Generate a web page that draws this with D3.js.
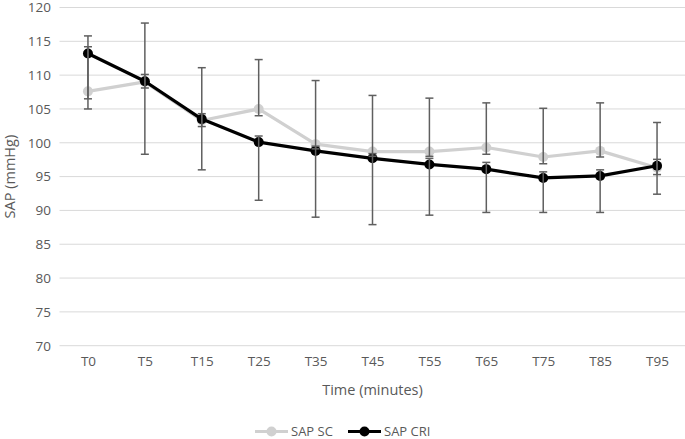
<!DOCTYPE html>
<html>
<head>
<meta charset="utf-8">
<script src="https://cdn.jsdelivr.net/npm/d3@7"></script>
<style>
  html, body { margin: 0; padding: 0; background: #fff; }
  text { font-family: "Open Sans", "Liberation Sans", sans-serif; }
</style>
</head>
<body>
<svg id="chart" width="685" height="439"></svg>
<script>
const categories = ["T0","T5","T15","T25","T35","T45","T55","T65","T75","T85","T95"];
const sapSC      = [107.6, 109.0, 103.3, 105.0, 99.8, 98.7, 98.7, 99.3, 97.9, 98.8, 96.3];
const sapSCUp    = [115.8, 117.7, 111.1, 112.3, 109.2, 107.0, 106.6, 105.9, 105.1, 105.9, 103.0];
const sapSCLow   = [106.5, 108.1, 102.4, 104.0, 99.1, 98.0, 98.0, 98.3, 96.9, 97.9, 95.3];
const sapCRI     = [113.2, 109.1, 103.5, 100.1, 98.8, 97.7, 96.8, 96.1, 94.8, 95.1, 96.6];
const sapCRIUp   = [114.2, 110.1, 104.3, 101.0, 99.5, 98.4, 97.7, 97.1, 95.7, 96.0, 97.55];
const sapCRILow  = [105.0, 98.3, 96.0, 91.5, 89.0, 87.9, 89.3, 89.7, 89.7, 89.7, 92.4];
const yTicks     = [70, 75, 80, 85, 90, 95, 100, 105, 110, 115, 120];
const seriesNames = ["SAP SC", "SAP CRI"];

const svg = d3.select("#chart");
const margin = {left: 59.5, right: 685.5, top: 7.5, bottom: 345.7};

const x = d3.scalePoint().domain(categories).range([margin.left, margin.right]).padding(0.5);
const y = d3.scaleLinear().domain([70, 120]).range([margin.bottom, margin.top]);

const textColor = "#595959";

// gridlines
svg.append("g").selectAll("line").data(yTicks).join("line")
  .attr("x1", margin.left).attr("x2", 685)
  .attr("y1", d => y(d)).attr("y2", d => y(d))
  .attr("stroke", "#d9d9d9").attr("stroke-width", 1);

// y axis labels
const yAxis = d3.axisLeft(y).tickValues(yTicks).tickSize(0).tickPadding(0);
const gy = svg.append("g").attr("transform", "translate(51,0)").call(yAxis);
gy.select(".domain").remove();
gy.selectAll("text").attr("fill", textColor).attr("font-size", 13.5).attr("font-family", "Open Sans");

// x axis labels
const xAxis = d3.axisBottom(x).tickSize(0).tickPadding(0);
const gx = svg.append("g").attr("transform", "translate(0,356)").call(xAxis);
gx.select(".domain").remove();
gx.selectAll("text").attr("fill", textColor).attr("font-size", 13.5).attr("font-family", "Open Sans");

// axis titles
svg.append("text").attr("x", (margin.left + margin.right) / 2).attr("y", 394.5)
  .attr("text-anchor", "middle").attr("fill", textColor).attr("font-size", 14.5)
  .text("Time (minutes)");
svg.append("text")
  .attr("transform", `translate(15,${(margin.top + margin.bottom) / 2}) rotate(-90)`)
  .attr("text-anchor", "middle").attr("fill", textColor).attr("font-size", 14.5)
  .text("SAP (mmHg)");

const series = [
  {name: seriesNames[0], vals: sapSC, up: sapSCUp, low: sapSCLow, color: "#d0d0d0"},
  {name: seriesNames[1], vals: sapCRI, up: sapCRIUp, low: sapCRILow, color: "#000000"}
];

const line = d3.line().x((d, i) => x(categories[i])).y(d => y(d));

series.forEach(s => {
  const g = svg.append("g");
  g.append("path").datum(s.vals).attr("d", line)
    .attr("fill", "none").attr("stroke", s.color).attr("stroke-width", 3.2)
    .attr("stroke-linejoin", "round");
  g.selectAll("circle").data(s.vals).join("circle")
    .attr("cx", (d, i) => x(categories[i])).attr("cy", d => y(d))
    .attr("r", 5).attr("fill", s.color);
});

// error bars (drawn above the series)
series.forEach(s => {
  const g = svg.append("g").attr("stroke", "#5f5f5f").attr("stroke-width", 1.5);
  categories.forEach((c, i) => {
    const cx = x(c);
    g.append("line").attr("x1", cx).attr("x2", cx).attr("y1", y(s.up[i])).attr("y2", y(s.low[i]));
    [s.up[i], s.low[i]].forEach(v => {
      g.append("line").attr("x1", cx - 4).attr("x2", cx + 4).attr("y1", y(v)).attr("y2", y(v));
    });
  });
});

// legend
const legend = [
  {name: seriesNames[0], color: "#d0d0d0", x0: 255},
  {name: seriesNames[1], color: "#000000", x0: 348}
];
legend.forEach(l => {
  const g = svg.append("g");
  g.append("line").attr("x1", l.x0).attr("x2", l.x0 + 33).attr("y1", 431.5).attr("y2", 431.5)
    .attr("stroke", l.color).attr("stroke-width", 3.2);
  g.append("circle").attr("cx", l.x0 + 16.5).attr("cy", 431.5).attr("r", 5).attr("fill", l.color);
  g.append("text").attr("x", l.x0 + 36).attr("y", 436).attr("fill", textColor)
    .attr("font-size", 13).text(l.name);
});
</script>
</body>
</html>
